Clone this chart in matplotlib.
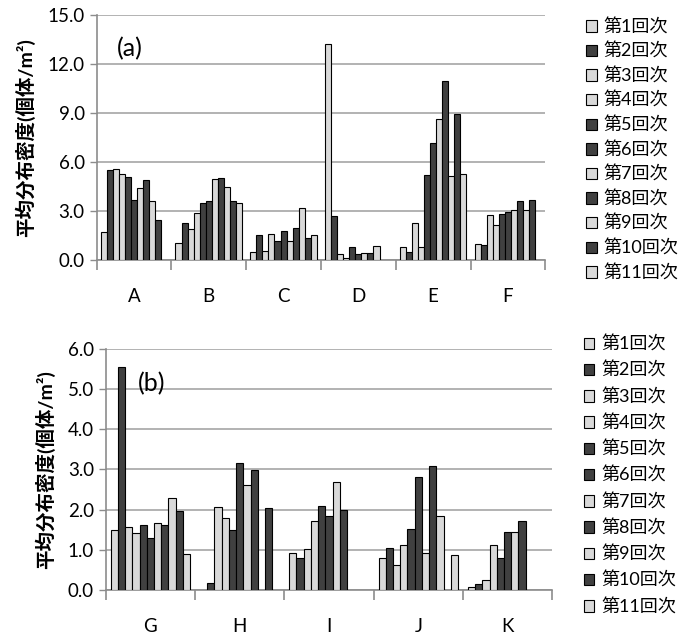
import numpy as np
import matplotlib.pyplot as plt

plt.rcParams['font.family'] = ['Lato', 'Noto Sans CJK JP', 'DejaVu Sans']

nan = np.nan

# survey rounds and bar shades (light / dark as in the original)
rounds = ['第%d回次' % i for i in range(1, 12)]
shades = ['#d9d9d9', '#404040', '#d9d9d9', '#d9d9d9', '#404040', '#404040',
          '#d9d9d9', '#404040', '#d9d9d9', '#404040', '#d9d9d9']

# panel (a)
cats_a = ['A', 'B', 'C', 'D', 'E', 'F']
vals_a = np.array([
    [1.7, 5.5, 5.6, 5.3, 5.1, 3.7, 4.4, 4.9, 3.6, 2.45, nan],     # A
    [1.05, 2.3, 1.9, 2.9, 3.5, 3.65, 5.0, 5.05, 4.45, 3.65, 3.5],  # B
    [0.5, 1.55, 0.55, 1.6, 1.2, 1.8, 1.15, 1.95, 3.2, 1.35, 1.55],  # C
    [13.25, 2.7, 0.4, 0.15, 0.8, 0.4, 0.45, 0.45, 0.85, nan, nan],  # D
    [0.8, 0.5, 2.25, 0.8, 5.2, 7.15, 8.65, 10.95, 5.15, 8.95, 5.3],  # E
    [1.0, 0.95, 2.75, 2.15, 2.85, 2.95, 3.05, 3.65, 3.05, 3.7, nan],  # F
])

# panel (b)
cats_b = ['G', 'H', 'I', 'J', 'K']
vals_b = np.array([
    [1.5, 5.55, 1.58, 1.41, 1.63, 1.3, 1.66, 1.62, 2.3, 1.97, 0.91],  # G
    [nan, 0.18, 2.06, 1.8, 1.49, 3.15, 2.6, 2.99, nan, 2.04, nan],     # H
    [0.93, 0.79, 1.03, 1.71, 2.1, 1.85, 2.69, 1.99, nan, nan, nan],   # I
    [0.79, 1.04, 0.63, 1.12, 1.53, 2.8, 0.92, 3.09, 1.85, nan, 0.88],  # J
    [0.07, 0.15, 0.25, 1.12, 0.79, 1.44, 1.44, 1.72, nan, nan, nan],   # K
])

ylabel = '平均分布密度(個体/m²)'


def draw_panel(ax, cats, vals, ymax, ystep, tag, tag_xy):
    n = len(cats)
    x = np.arange(n)
    w = 0.081
    for i in range(11):
        ax.bar(x + (i - 5) * w, vals[:, i], width=w, color=shades[i],
               edgecolor='black', linewidth=0.8, label=rounds[i], zorder=3)
    ax.set_xlim(-0.5, n - 0.5)
    ax.set_ylim(0, ymax)
    ax.set_yticks(np.arange(0, ymax + 0.01, ystep))
    ax.set_yticklabels(['%.1f' % v for v in np.arange(0, ymax + 0.01, ystep)])
    ax.set_xticks(x)
    ax.set_xticklabels(cats)
    ax.set_xticks(np.arange(-0.5, n), minor=True)
    ax.tick_params(axis='x', which='major', length=0, pad=20, labelsize=13.5)
    ax.tick_params(axis='x', which='minor', length=7, color='#8c8c8c', width=1.2)
    ax.tick_params(axis='y', length=5, color='#8c8c8c', width=1.0, labelsize=13.5)
    ax.grid(axis='y', color='#a6a6a6', linewidth=1.2, zorder=0)
    for s in ['top', 'right']:
        ax.spines[s].set_visible(False)
    for s in ['left', 'bottom']:
        ax.spines[s].set_color('#8c8c8c')
        ax.spines[s].set_linewidth(1.2)
    ax.set_ylabel(ylabel, fontsize=14, fontweight='bold', labelpad=9)
    ax.text(tag_xy[0], tag_xy[1], tag, transform=ax.transAxes, fontsize=18,
            ha='center', va='center', zorder=4)


fig = plt.figure(figsize=(7, 6.36), dpi=100)
ax1 = fig.add_axes([0.138, 0.591, 0.641, 0.385])
ax2 = fig.add_axes([0.151, 0.072, 0.638, 0.380])

draw_panel(ax1, cats_a, vals_a, 15.0, 3.0, '(a)', (0.074, 0.865))
draw_panel(ax2, cats_b, vals_b, 6.0, 1.0, '(b)', (0.103, 0.856))

ax1.legend(loc='upper left', bbox_to_anchor=(1.07, 1.025), frameon=False,
           fontsize=13, handlelength=0.6, handleheight=0.6,
           handletextpad=0.4, labelspacing=0.42, borderpad=0)
ax2.legend(loc='upper left', bbox_to_anchor=(1.05, 1.09), frameon=False,
           fontsize=13, handlelength=0.6, handleheight=0.6,
           handletextpad=0.4, labelspacing=0.51, borderpad=0)

fig.savefig('out.png', dpi=100)
